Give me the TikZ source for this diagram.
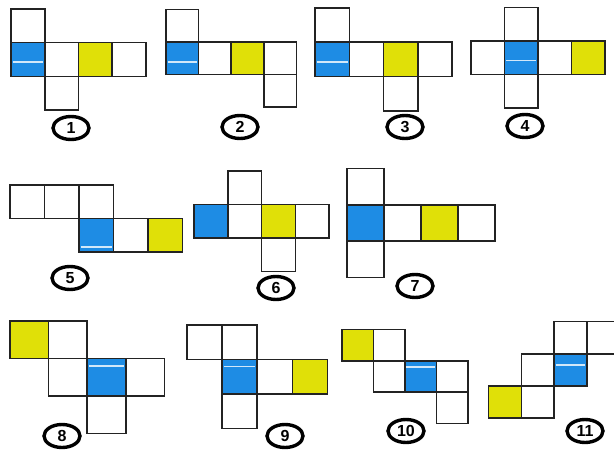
\documentclass[tikz,border=0pt]{standalone}
\usepackage{fontspec}
\setmainfont{Liberation Sans}
\usetikzlibrary{shapes.geometric}
\definecolor{cubeblue}{RGB}{30,140,228}
\definecolor{cubeyellow}{RGB}{224,224,8}
\definecolor{linec}{RGB}{35,35,35}
\tikzset{
  face/.style={draw=linec, line width=1.6pt, line join=miter},
  wsq/.style={face, fill=white},
  bsq/.style={face, fill=cubeblue},
  ysq/.style={face, fill=cubeyellow},
  streak/.style={draw=white, line width=1.8pt, opacity=0.8},
  lab/.style={ellipse, draw=black, line width=3.4pt, minimum width=36pt, minimum height=23pt, inner sep=0pt, font=\fontsize{16}{16}\selectfont\bfseries}
}
\newcommand\wq[2]{\draw[wsq] (#1,#2) rectangle +(1,1);}
\newcommand\yq[2]{\draw[ysq] (#1,#2) rectangle +(1,1);}
\newcommand\bq[3]{\draw[bsq] (#1,#2) rectangle +(1,1); \draw[streak] (#1+0.05,#2+#3) -- (#1+0.95,#2+#3);}
\newcommand\bqn[2]{\draw[bsq] (#1,#2) rectangle +(1,1);}
\begin{document}
\begin{tikzpicture}[x=1pt,y=-1pt]
\useasboundingbox (0,0) rectangle (614,452);
\fill[white] (0,0) rectangle (614,452);
\clip (0,0) rectangle (614,452);
% net 1
\begin{scope}[shift={(11,9)},x=33.7pt,y=-33.7pt]
 \wq{0}{0} \bq{0}{1}{0.57} \wq{1}{1} \yq{2}{1} \wq{3}{1} \wq{1}{2}
\end{scope}
% net 2
\begin{scope}[shift={(166,9.5)},x=32.6pt,y=-32.6pt]
 \wq{0}{0} \bq{0}{1}{0.62} \wq{1}{1} \yq{2}{1} \wq{3}{1} \wq{3}{2}
\end{scope}
% net 3
\begin{scope}[shift={(315,8)},x=34.3pt,y=-34.3pt]
 \wq{0}{0} \bq{0}{1}{0.57} \wq{1}{1} \yq{2}{1} \wq{3}{1} \wq{2}{2}
\end{scope}
% net 4
\begin{scope}[shift={(471,7.5)},x=33.5pt,y=-33.5pt]
 \wq{1}{0} \wq{0}{1} \bq{1}{1}{0.58} \wq{2}{1} \yq{3}{1} \wq{1}{2}
\end{scope}
% net 5
\begin{scope}[shift={(10,185)},x=34.5pt,y=-33.5pt]
 \wq{0}{0} \wq{1}{0} \wq{2}{0} \bq{2}{1}{0.84} \wq{3}{1} \yq{4}{1}
\end{scope}
% net 6
\begin{scope}[shift={(194,171)},x=33.8pt,y=-33.5pt]
 \wq{1}{0} \bqn{0}{1} \wq{1}{1} \yq{2}{1} \wq{3}{1} \wq{2}{2}
\end{scope}
% net 7
\begin{scope}[shift={(346.7,168.3)},x=37pt,y=-36.4pt]
 \wq{0}{0} \bqn{0}{1} \wq{1}{1} \yq{2}{1} \wq{3}{1} \wq{0}{2}
\end{scope}
% net 8
\begin{scope}[shift={(10,320.7)},x=38.6pt,y=-37.6pt]
 \yq{0}{0} \wq{1}{0} \wq{1}{1} \bq{2}{1}{0.2} \wq{3}{1} \wq{2}{2}
\end{scope}
% net 9
\begin{scope}[shift={(186.7,325)},x=35.2pt,y=-34.5pt]
 \wq{0}{0} \wq{1}{0} \bq{1}{1}{0.2} \wq{2}{1} \yq{3}{1} \wq{1}{2}
\end{scope}
% net 10
\begin{scope}[shift={(341.7,329.3)},x=31.6pt,y=-31.4pt]
 \yq{0}{0} \wq{1}{0} \wq{1}{1} \bq{2}{1}{0.2} \wq{3}{1} \wq{3}{2}
\end{scope}
% net 11
\begin{scope}[shift={(488.5,321.5)},x=32.8pt,y=-32.2pt]
 \wq{2}{0} \wq{3}{0} \wq{1}{1} \bq{2}{1}{0.36} \yq{0}{2} \wq{1}{2}
\end{scope}
% labels
\node[lab] (l1) at (71,128) {1};
\node[lab] (l2) at (240,127) {2};
\node[lab] (l3) at (405,127) {3};
\node[lab] (l4) at (525,126) {4};
\node[lab] (l5) at (70,278) {5};
\node[lab] (l6) at (276,288) {6};
\node[lab] (l7) at (415,286) {7};
\node[lab] (l8) at (62,436) {8};
\node[lab] (l9) at (285,436) {9};
\node[lab] (l10) at (406,431) {10};
\node[lab] (l11) at (585,431) {11};
\end{tikzpicture}
\end{document}
